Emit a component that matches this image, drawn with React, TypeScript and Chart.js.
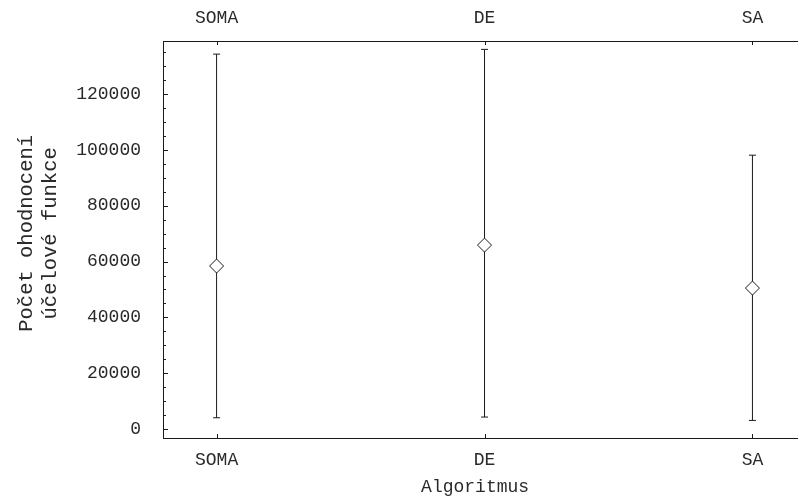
import React, { useEffect, useRef } from 'react';
import { Chart, registerables } from 'chart.js';

Chart.register(...registerables);

const categories = ['SOMA', 'DE', 'SA'];
const means = [58400, 65900, 50500];
const lows = [4050, 4300, 3100];
const highs = [134300, 136000, 98100];
const yTickValues = [0, 20000, 40000, 60000, 80000, 100000, 120000];
const yMinorStep = 5000;
const yTitle = [' Počet ohodnocení', ' účelové funkce'];
const xTitle = 'Algoritmus ';

const FONT = "'Liberation Mono', 'Courier New', monospace";
const LINE = '#1a1a1a';
const TEXT = '#2a2a2a';

const innerTicks = {
  id: 'innerTicks',
  afterDraw(chart: any) {
    const { ctx, chartArea, scales } = chart;
    const { left, top, bottom } = chartArea;
    const x = scales.x;
    const y = scales.y;
    ctx.save();
    ctx.strokeStyle = LINE;
    ctx.lineWidth = 1;
    ctx.beginPath();
    for (let v = 0; v <= y.max; v += yMinorStep) {
      const py = Math.round(y.getPixelForValue(v)) + 0.5;
      const len = v % 20000 === 0 ? 5 : 3;
      ctx.moveTo(left, py);
      ctx.lineTo(left + len, py);
    }
    categories.forEach((_, i) => {
      const px = Math.round(x.getPixelForValue(i)) + 0.5;
      ctx.moveTo(px, bottom);
      ctx.lineTo(px, bottom - 4);
      ctx.moveTo(px, top);
      ctx.lineTo(px, top + 4);
    });
    ctx.stroke();
    ctx.restore();
  },
};

export default function App() {
  const ref = useRef<HTMLCanvasElement | null>(null);

  useEffect(() => {
    if (!ref.current) return;
    const catTicks = (scale: any) => {
      scale.ticks = categories.map((_, i) => ({ value: i }));
    };
    const xCommon = {
      type: 'linear' as const,
      min: -0.2,
      max: 2.17,
      afterBuildTicks: catTicks,
      grid: { display: false, drawTicks: false },
      border: { display: true, color: LINE, width: 1 },
      ticks: {
        autoSkip: false,
        maxRotation: 0,
        color: TEXT,
        font: { family: FONT, size: 18 },
        callback: (v: any) => categories[Math.round(Number(v))] ?? '',
      },
    };

    const chart = new Chart(ref.current, {
      type: 'scatter',
      data: {
        datasets: [
          {
            type: 'scatter',
            label: 'mean',
            data: means.map((m, i) => ({ x: i, y: m })),
            pointStyle: 'rectRot',
            pointRadius: 7,
            pointBackgroundColor: '#ffffff',
            pointBorderColor: LINE,
            pointBorderWidth: 1,
            xAxisID: 'x',
            yAxisID: 'y',
          } as any,
          ...categories.map((c, i) => ({
            type: 'line',
            label: c,
            data: [
              { x: i, y: lows[i] },
              { x: i, y: highs[i] },
            ],
            showLine: true,
            borderColor: LINE,
            borderWidth: 1,
            pointStyle: 'line',
            pointRadius: 3.5,
            pointBorderColor: LINE,
            pointBorderWidth: 1,
            xAxisID: 'x',
            yAxisID: 'y',
          } as any)),
        ],
      },
      options: {
        animation: false,
        responsive: false,
        maintainAspectRatio: false,
        layout: { padding: 0, autoPadding: false },
        plugins: {
          legend: { display: false },
          tooltip: { enabled: false },
          title: { display: false },
        },
        scales: {
          x: {
            ...xCommon,
            position: 'bottom',
            ticks: { ...xCommon.ticks, padding: 11 },
            title: {
              display: true,
              text: xTitle,
              color: TEXT,
              font: { family: FONT, size: 18, lineHeight: 1.2 },
              padding: { top: 0, bottom: 4 },
            },
            afterFit: (s: any) => {
              s.height = 64;
            },
          },
          x2: {
            ...xCommon,
            position: 'top',
            ticks: { ...xCommon.ticks, padding: 12 },
            afterFit: (s: any) => {
              s.height = 41;
            },
          },
          y: {
            type: 'linear',
            position: 'left',
            min: -3200,
            max: 139000,
            afterBuildTicks: (s: any) => {
              s.ticks = yTickValues.map((v) => ({ value: v }));
            },
            grid: { display: false, drawTicks: false },
            border: { display: true, color: LINE, width: 1 },
            ticks: {
              padding: 22,
              color: TEXT,
              font: { family: FONT, size: 18 },
              callback: (v: any) => String(v),
            },
            title: {
              display: true,
              text: yTitle,
              color: TEXT,
              font: { family: FONT, size: 20.5, lineHeight: 1.17 },
              padding: { top: 15, bottom: 0 },
            },
            afterFit: (s: any) => {
              s.width = 163;
            },
          },
        },
      } as any,
      plugins: [innerTicks],
    });
    return () => chart.destroy();
  }, []);

  return (
    <div style={{ position: 'fixed', left: 0, top: 0, width: 798, height: 502, overflow: 'hidden', background: '#fff' }}>
      <canvas ref={ref} width={798} height={502} style={{ display: 'block' }} />
    </div>
  );
}
